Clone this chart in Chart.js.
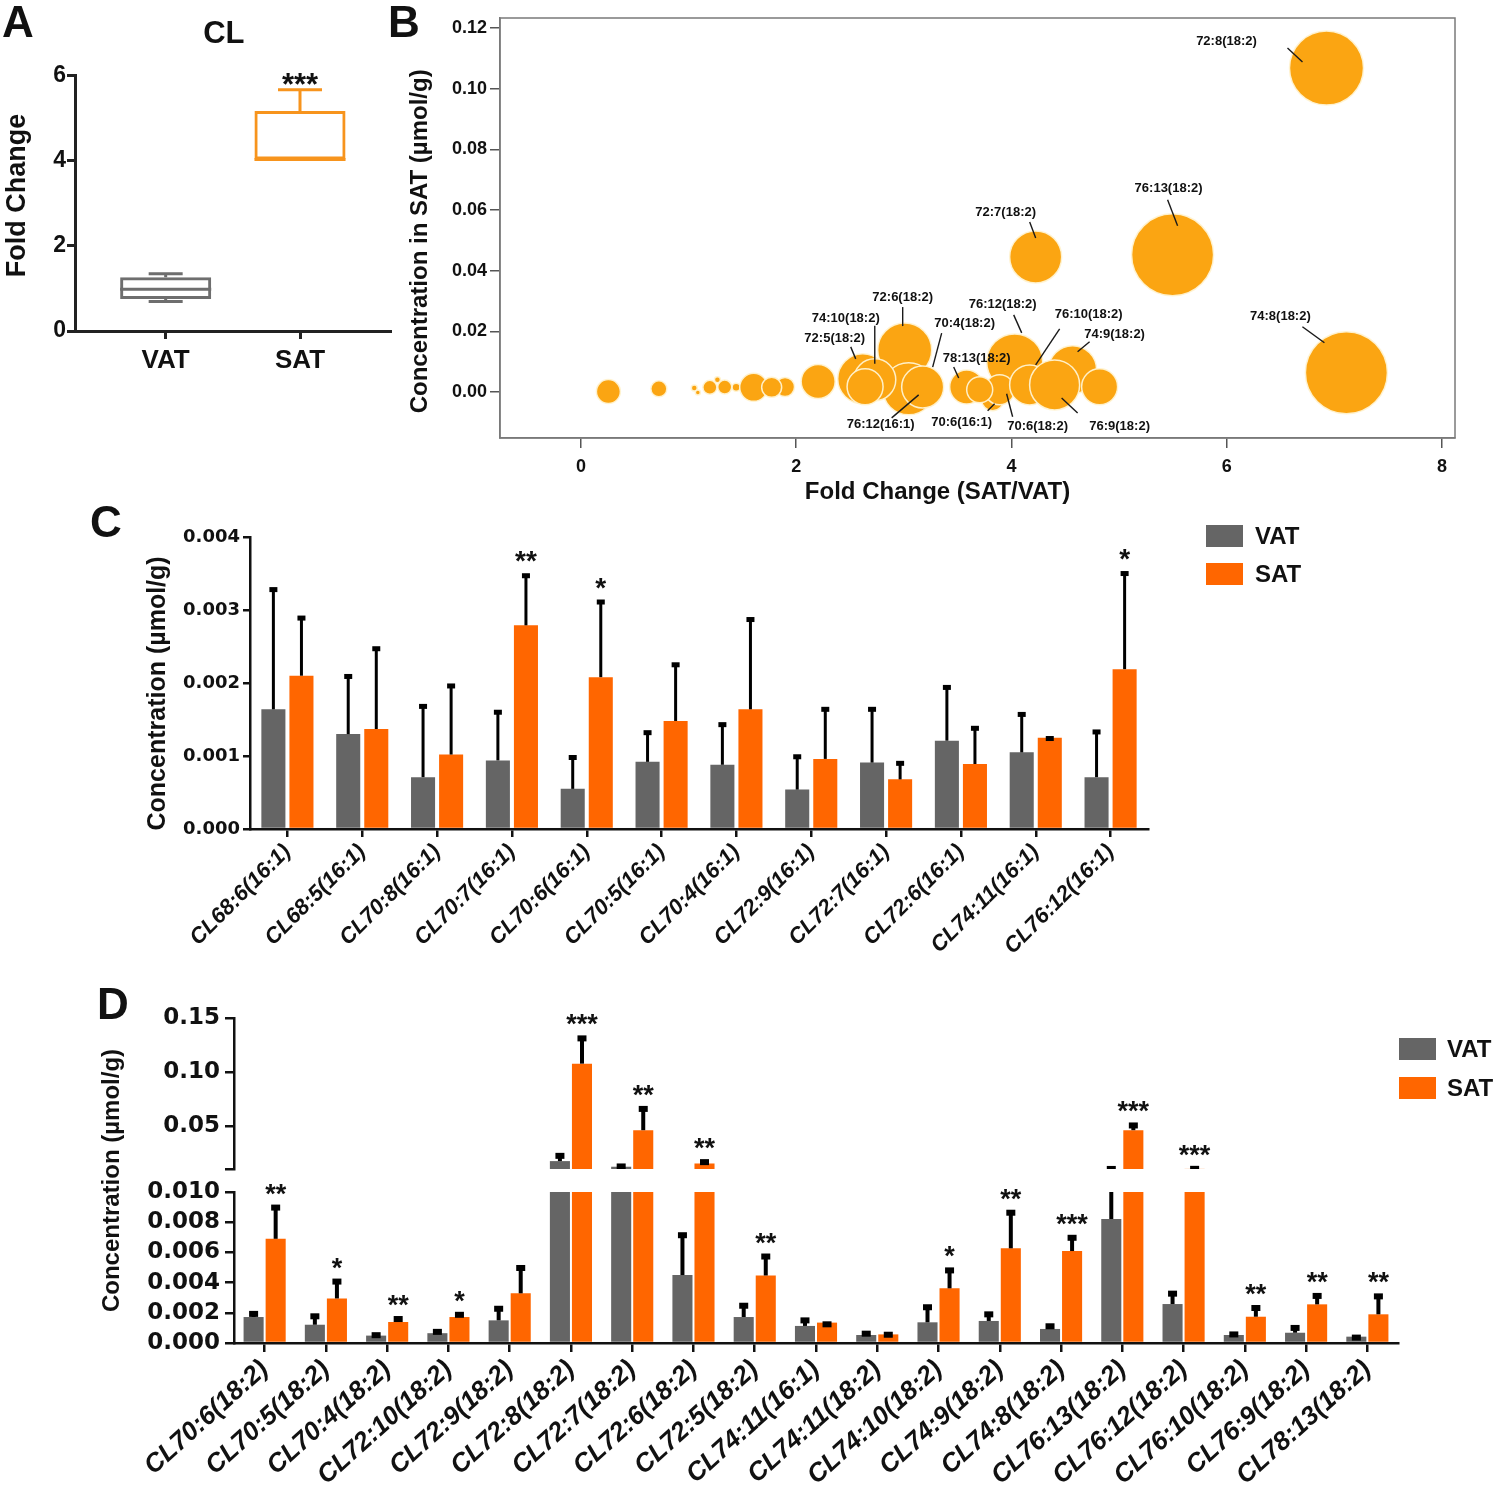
<!DOCTYPE html>
<html lang="en">
<head>
<meta charset="UTF-8">
<title>CL</title>
<script src="https://cdn.jsdelivr.net/npm/chart.js@4.4.0/dist/chart.umd.min.js"></script>
<style>
  body { margin: 0; background: #fff; }
  #wrap { position: relative; width: 1500px; height: 1490px; overflow: hidden; }
  canvas { position: absolute; }
  .tag { position: absolute; font: bold 44px Arial, "Liberation Sans", sans-serif; line-height: 1; color: #111; }
</style>
</head>
<body>
<div id="wrap">
  <canvas id="chartA" width="400" height="400" style="left:0;top:0"></canvas>
  <canvas id="chartB" width="1100" height="510" style="left:400px;top:0"></canvas>
  <canvas id="chartC" width="1250" height="475" style="left:100px;top:515px"></canvas>
  <canvas id="chartD" width="1410" height="500" style="left:90px;top:990px"></canvas>
  <div class="tag" style="left:2px;top:0">A</div>
  <div class="tag" style="left:388px;top:0">B</div>
  <div class="tag" style="left:90px;top:500px">C</div>
  <div class="tag" style="left:97px;top:982px">D</div>
</div>
<script>
// ---- panel A: fold change box plot
var boxGroups = ['VAT', 'SAT'];
var boxMin = [0.69, 4.02];
var boxQ1 = [0.75, 4.02];
var boxMedian = [0.98, 4.02];
var boxQ3 = [1.26, 5.16];
var boxMax = [1.34, 5.66];
var boxStars = ['', '***'];
var foldTicksA = [0, 2, 4, 6];

// ---- panel B: bubbles (fold change vs SAT concentration)
var bubbleNames = ['', '', '', '', '', '', '', '', '', '', '', '',
  '72:5(18:2)', '72:6(18:2)', '76:12(16:1)', '76:12(18:2)', '74:9(18:2)', '70:6(16:1)',
  '70:6(18:2)', '78:13(18:2)', '', '74:10(18:2)', '', '70:4(18:2)', '76:10(18:2)',
  '76:9(18:2)', '', '72:7(18:2)', '76:13(18:2)', '72:8(18:2)', '74:8(18:2)'];
var bubbleFold = [0.255, 0.724, 1.053, 1.086, 1.198, 1.268, 1.336, 1.442, 1.605, 1.896, 1.772, 2.204,
  2.618, 3.008, 3.045, 4.030, 4.568, 3.825,
  3.890, 3.584, 3.705, 2.730, 2.640, 3.175, 4.169,
  4.401, 4.819, 4.225, 5.497, 6.927, 7.112];
var bubbleConc = [0.0001, 0.0010, 0.0013, -0.0002, 0.0015, 0.0040, 0.0016, 0.0015, 0.0015, 0.0016, 0.0015, 0.0034,
  0.0043, 0.0138, 0.0010, 0.0099, 0.0073, -0.0026,
  0.0007, 0.0016, 0.0007, 0.0040, 0.0017, 0.0016, 0.0023,
  0.0023, 0.0017, 0.0445, 0.0452, 0.1068, 0.0063];
var bubbleSize = [12, 8, 3, 2.5, 7, 3, 7, 4, 14, 9.5, 10, 17,
  25, 27, 26, 28, 24, 11,
  15, 17, 13, 21, 18, 21, 20,
  25, 18, 26, 41, 37, 41];
var foldTicksB = [0, 2, 4, 6, 8];
var concTicksB = [0, 0.02, 0.04, 0.06, 0.08, 0.10, 0.12];

// ---- panel C: 16:1 species
var lipids16 = ['CL68:6(16:1)', 'CL68:5(16:1)', 'CL70:8(16:1)', 'CL70:7(16:1)', 'CL70:6(16:1)', 'CL70:5(16:1)',
  'CL70:4(16:1)', 'CL72:9(16:1)', 'CL72:7(16:1)', 'CL72:6(16:1)', 'CL74:11(16:1)', 'CL76:12(16:1)'];
var vat16 = [0.00164, 0.00130, 0.00071, 0.00094, 0.00055, 0.00092, 0.00088, 0.00054, 0.00091, 0.00121, 0.00105, 0.00071];
var vat16Err = [0.00330, 0.00211, 0.00170, 0.00162, 0.00100, 0.00134, 0.00145, 0.00101, 0.00166, 0.00196, 0.00159, 0.00135];
var sat16 = [0.00210, 0.00137, 0.00102, 0.00279, 0.00208, 0.00148, 0.00164, 0.00096, 0.00068, 0.00089, 0.00125, 0.00219];
var sat16Err = [0.00291, 0.00249, 0.00198, 0.00349, 0.00313, 0.00227, 0.00289, 0.00166, 0.00092, 0.00140, 0.00126, 0.00352];
var stars16 = ['', '', '', '**', '*', '', '', '', '', '', '', '*'];
var concTicksC = [0, 0.001, 0.002, 0.003, 0.004];

// ---- panel D: 18:2 species, broken axis
var lipids18 = ['CL70:6(18:2)', 'CL70:5(18:2)', 'CL70:4(18:2)', 'CL72:10(18:2)', 'CL72:9(18:2)', 'CL72:8(18:2)',
  'CL72:7(18:2)', 'CL72:6(18:2)', 'CL72:5(18:2)', 'CL74:11(16:1)', 'CL74:11(18:2)', 'CL74:10(18:2)',
  'CL74:9(18:2)', 'CL74:8(18:2)', 'CL76:13(18:2)', 'CL76:12(18:2)', 'CL76:10(18:2)', 'CL76:9(18:2)', 'CL78:13(18:2)'];
var vat18 = [0.00172, 0.00121, 0.00049, 0.00065, 0.00150, 0.0177, 0.0125, 0.00450, 0.00172, 0.00113,
  0.00053, 0.00137, 0.00146, 0.00093, 0.00821, 0.00258, 0.00053, 0.00068, 0.00042];
var vat18Err = [0.00206, 0.00190, 0.00065, 0.00087, 0.00240, 0.0244, 0.0146, 0.00727, 0.00260, 0.00163,
  0.00075, 0.00250, 0.00203, 0.00124, 0.0123, 0.00340, 0.00070, 0.00113, 0.00049];
var sat18 = [0.00690, 0.00295, 0.00139, 0.00172, 0.00329, 0.1078, 0.0463, 0.0155, 0.00447, 0.00135,
  0.00057, 0.00362, 0.00627, 0.00609, 0.0463, 0.0105, 0.00174, 0.00256, 0.00190];
var sat18Err = [0.00910, 0.00420, 0.00172, 0.00200, 0.00510, 0.1330, 0.0678, 0.0186, 0.00586, 0.00137,
  0.00068, 0.00494, 0.00876, 0.00710, 0.0525, 0.0124, 0.00245, 0.00325, 0.00322];
var stars18 = ['**', '*', '**', '*', '', '***', '**', '**', '**', '', '', '*', '**', '***', '***', '***', '**', '**', '**'];
var lowTicksD = [0, 0.002, 0.004, 0.006, 0.008, 0.010];
var highTicksD = [0.05, 0.10, 0.15];
var breakLow = 0.010, breakHigh = 0.0104;

// ---- look
var ARIAL = 'Arial, "Liberation Sans", sans-serif';
var DEJAVU = '"DejaVu Sans", Verdana, sans-serif';
var GREY = '#656565';
var ORANGE = '#ff6600';
var INK = '#111';
Chart.defaults.font.family = ARIAL;
Chart.defaults.color = INK;

// label offsets from bubble centre: text dx,dy, leader from (ax,ay) to (bx,by)
var bubbleTagAt = {
  '72:5(18:2)': [-28, -40, -12, -32, -7, -20],
  '72:6(18:2)': [-2, -53, -2, -43, -2, -24],
  '76:12(16:1)': [-28, 36, -17, 29, 10, 6],
  '76:12(18:2)': [-12, -57, -1, -47, 7, -29],
  '74:9(18:2)': [42, -35, 17, -28, 5, -18],
  '70:6(16:1)': [-31, 23, -5, 11, 2, 4],
  '70:6(18:2)': [38, 37, 13, 27, 7, 4],
  '78:13(18:2)': [10, -29, -13, -20, -8, -9],
  '74:10(18:2)': [-29, -61, 0, -54, 0, -16],
  '70:4(18:2)': [42, -64, 19, -54, 10, -20],
  '76:10(18:2)': [59, -71, 30, -56, 6, -20],
  '76:9(18:2)': [65, 41, 23, 28, 7, 13],
  '72:7(18:2)': [-30, -45, -6, -35, 0, -19],
  '76:13(18:2)': [-4, -66, -5, -55, 5, -29],
  '72:8(18:2)': [-100, -27, -39, -20, -24, -6],
  '74:8(18:2)': [-66, -56, -44, -46, -22, -30]
};

function fixedTicks(list) {
  return function (s) { s.ticks = list.map(function (v) { return { value: v }; }); };
}

function tickGrid(len, w, col) {
  return { drawOnChartArea: false, drawTicks: true, tickLength: len, lineWidth: w, color: col, offset: false };
}

// ================= A =================
var boxColors = ['#6e6e6e', '#f7941d'];
var boxCaps = [34, 44];
var boxPlot = {
  id: 'boxPlot',
  afterDatasetsDraw: function (chart) {
    var ctx = chart.ctx, y = chart.scales.y;
    var meta = chart.getDatasetMeta(0);
    meta.data.forEach(function (bar, i) {
      var cx = bar.x, half = bar.width / 2;
      ctx.save();
      ctx.strokeStyle = boxColors[i];
      ctx.lineWidth = 3;
      ctx.beginPath();
      var ym = y.getPixelForValue(boxMedian[i]);
      ctx.moveTo(cx - half, ym); ctx.lineTo(cx + half, ym);
      var yq3 = y.getPixelForValue(boxQ3[i]), yMax = y.getPixelForValue(boxMax[i]);
      var yq1 = y.getPixelForValue(boxQ1[i]), yMin = y.getPixelForValue(boxMin[i]);
      ctx.moveTo(cx, yq3); ctx.lineTo(cx, yMax);
      ctx.moveTo(cx - boxCaps[i] / 2, yMax); ctx.lineTo(cx + boxCaps[i] / 2, yMax);
      if (yMin - yq1 > 0.5) {
        ctx.moveTo(cx, yq1); ctx.lineTo(cx, yMin);
        ctx.moveTo(cx - boxCaps[i] / 2, yMin); ctx.lineTo(cx + boxCaps[i] / 2, yMin);
      }
      ctx.stroke();
      if (boxStars[i]) {
        ctx.fillStyle = INK;
        ctx.font = 'bold 31px ' + ARIAL;
        ctx.textAlign = 'center';
        ctx.fillText(boxStars[i], cx, yMax + 5);
      }
      ctx.restore();
    });
  }
};

new Chart(document.getElementById('chartA'), {
  type: 'bar',
  data: {
    datasets: [{
      data: boxGroups.map(function (g, i) { return { x: i + 1, y: [boxQ1[i], boxQ3[i]] }; }),
      backgroundColor: 'rgba(255,255,255,0)',
      borderColor: boxColors,
      borderWidth: 3,
      borderSkipped: false,
      categoryPercentage: 1,
      barPercentage: 0.678
    }]
  },
  options: {
    responsive: false,
    animation: false,
    layout: { padding: { right: 10 } },
    plugins: {
      legend: { display: false },
      tooltip: { enabled: false },
      title: { display: true, text: 'CL  ', fullSize: false, color: INK,
        font: { size: 31, weight: 'bold' }, padding: { top: 16, bottom: 22 } }
    },
    scales: {
      x: {
        type: 'linear', min: 0.325, max: 2.67, offset: false,
        afterBuildTicks: fixedTicks([1, 2]),
        ticks: { callback: function (v) { return boxGroups[v - 1]; }, padding: 6, color: INK,
          font: { size: 26, weight: 'bold' } },
        grid: tickGrid(8, 3, '#222'),
        border: { color: '#222', width: 3 },
        afterFit: function (s) { s.height = 69; }
      },
      y: {
        min: 0, max: 6,
        afterBuildTicks: fixedTicks(foldTicksA),
        ticks: { padding: 1, color: INK, font: { size: 23, weight: 'bold' } },
        grid: tickGrid(8, 3, '#222'),
        border: { color: '#222', width: 3 },
        title: { display: true, text: '  Fold Change', color: INK, font: { size: 27, weight: 'bold' },
          padding: { top: 1, bottom: 0 } },
        afterFit: function (s) { s.width = 75; }
      }
    }
  },
  plugins: [boxPlot]
});

// ================= B =================
var bubbleNotes = {
  id: 'bubbleNotes',
  afterDatasetsDraw: function (chart) {
    var ctx = chart.ctx, a = chart.chartArea;
    var meta = chart.getDatasetMeta(0);
    ctx.save();
    ctx.strokeStyle = '#7a7a7a';
    ctx.lineWidth = 1.5;
    ctx.strokeRect(a.left, a.top, a.right - a.left, a.bottom - a.top);
    ctx.font = 'bold 13px ' + ARIAL;
    ctx.textAlign = 'center';
    ctx.textBaseline = 'middle';
    ctx.fillStyle = INK;
    ctx.strokeStyle = '#1a1a1a';
    ctx.lineWidth = 1.4;
    bubbleNames.forEach(function (name, i) {
      var t = bubbleTagAt[name];
      if (!t) return;
      var p = meta.data[i];
      ctx.fillText(name, p.x + t[0], p.y + t[1]);
      ctx.beginPath();
      ctx.moveTo(p.x + t[2], p.y + t[3]);
      ctx.lineTo(p.x + t[4], p.y + t[5]);
      ctx.stroke();
    });
    ctx.restore();
  }
};

new Chart(document.getElementById('chartB'), {
  type: 'bubble',
  data: {
    datasets: [{
      data: bubbleNames.map(function (n, i) { return { x: bubbleFold[i], y: bubbleConc[i], r: bubbleSize[i] }; }),
      backgroundColor: '#fba512',
      borderColor: 'rgba(255,243,210,0.95)',
      borderWidth: 1.5,
      clip: false
    }]
  },
  options: {
    responsive: false,
    animation: false,
    layout: { autoPadding: false, padding: { top: 18, right: 45 } },
    plugins: { legend: { display: false }, tooltip: { enabled: false } },
    scales: {
      x: {
        type: 'linear', min: -0.752, max: 8.121,
        afterBuildTicks: fixedTicks(foldTicksB),
        ticks: { padding: 8, color: INK, font: { size: 18, weight: 'bold' } },
        grid: tickGrid(10, 1.5, '#555'),
        border: { color: '#7a7a7a', width: 1.5 },
        title: { display: true, text: 'Fold Change (SAT/VAT)            ', color: INK,
          font: { size: 24, weight: 'bold' }, padding: { top: 0, bottom: 3 } },
        afterFit: function (s) { s.height = 72; }
      },
      y: {
        type: 'linear', min: -0.0152, max: 0.1233,
        afterBuildTicks: fixedTicks(concTicksB),
        ticks: { callback: function (v) { return v.toFixed(2); }, padding: 3, color: INK,
          font: { size: 18, weight: 'bold' } },
        grid: tickGrid(10, 1.5, '#555'),
        border: { color: '#7a7a7a', width: 1.5 },
        title: { display: true, text: 'Concentration in SAT (\u00b5mol/g)    ', color: INK,
          font: { size: 24, weight: 'bold' }, padding: { top: 6, bottom: 0 } },
        afterFit: function (s) { s.width = 100; }
      }
    }
  },
  plugins: [bubbleNotes]
});

// ================= shared for C and D =================
function errorBars(errs, stars, look) {
  return {
    id: 'errorBars',
    beforeDatasetDraw: function (chart, args) {
      var s = chart.getDatasetMeta(args.index).yScale, a = chart.chartArea, ctx = chart.ctx;
      var top = s.top > a.top + 1 ? s.top : 0;
      var bottom = s.bottom < a.bottom - 1 ? s.bottom : chart.height;
      ctx.save();
      ctx.beginPath();
      ctx.rect(0, top, chart.width, bottom - top);
      ctx.clip();
    },
    afterDatasetDraw: function (chart, args) {
      var meta = chart.getDatasetMeta(args.index), s = meta.yScale, ctx = chart.ctx;
      var vals = chart.data.datasets[args.index].data, err = errs[args.index];
      ctx.fillStyle = '#000';
      ctx.strokeStyle = '#000';
      ctx.lineWidth = look.line;
      meta.data.forEach(function (bar, i) {
        var y0 = s.getPixelForValue(vals[i]), y1 = s.getPixelForValue(err[i]);
        ctx.beginPath();
        ctx.moveTo(bar.x, y0);
        ctx.lineTo(bar.x, y1);
        ctx.stroke();
        ctx.fillRect(bar.x - look.cap / 2, y1 - 1, look.cap, look.capH);
      });
      ctx.restore();
    },
    afterDatasetsDraw: function (chart) {
      var ctx = chart.ctx;
      ctx.save();
      ctx.font = look.starFont;
      ctx.fillStyle = INK;
      ctx.textAlign = 'center';
      ctx.textBaseline = 'alphabetic';
      chart.data.datasets.forEach(function (ds, d) {
        if (!stars[d]) return;
        var meta = chart.getDatasetMeta(d), s = meta.yScale;
        meta.data.forEach(function (bar, i) {
          var e = errs[d][i];
          if (!stars[d][i] || e < s.min || e > s.max) return;
          ctx.fillText(stars[d][i], bar.x, s.getPixelForValue(e) - look.starGap);
        });
      });
      ctx.restore();
    }
  };
}

function sideLegend(cfg) {
  return {
    id: 'sideLegend',
    afterDraw: function (chart) {
      var ctx = chart.ctx, a = chart.chartArea;
      ctx.save();
      ctx.font = 'bold 24px ' + ARIAL;
      ctx.textAlign = 'left';
      ctx.textBaseline = 'middle';
      [0, 1].forEach(function (i) {
        var ds = chart.data.datasets[i];
        var x = a.right + cfg.dx, y = a.top + cfg.dy + i * cfg.step;
        ctx.fillStyle = ds.backgroundColor;
        ctx.fillRect(x, y, cfg.w, cfg.h);
        ctx.fillStyle = INK;
        ctx.fillText(ds.label, x + cfg.textDx, y + cfg.h / 2 + 1);
      });
      ctx.restore();
    }
  };
}

// ================= C =================
new Chart(document.getElementById('chartC'), {
  type: 'bar',
  data: {
    labels: lipids16,
    datasets: [
      { label: 'VAT', data: vat16, backgroundColor: GREY, categoryPercentage: 0.75, barPercentage: 0.857 },
      { label: 'SAT', data: sat16, backgroundColor: ORANGE, categoryPercentage: 0.75, barPercentage: 0.857 }
    ]
  },
  options: {
    responsive: false,
    animation: false,
    layout: { padding: { top: 22, right: 202 } },
    plugins: { legend: { display: false }, tooltip: { enabled: false } },
    scales: {
      x: {
        offset: true,
        grid: tickGrid(8, 2.5, INK),
        border: { color: INK, width: 2.5 },
        ticks: { autoSkip: false, minRotation: 45, maxRotation: 45, padding: 2, color: INK,
          font: { size: 22, weight: 'bold', style: 'italic' } },
        afterFit: function (s) { s.height = 161; }
      },
      y: {
        min: 0, max: 0.004,
        afterBuildTicks: fixedTicks(concTicksC),
        ticks: { autoSkip: false, callback: function (v) { return v.toFixed(3); }, padding: 3, color: INK,
          font: { family: DEJAVU, size: 18, weight: 'bold' } },
        grid: tickGrid(7, 2.5, INK),
        border: { color: INK, width: 2.5 },
        title: { display: true, text: 'Concentration (\u00b5mol/g)   ', color: INK,
          font: { size: 25, weight: 'bold' }, padding: { top: 43, bottom: 0 } },
        afterFit: function (s) { s.width = 150; }
      }
    }
  },
  plugins: [
    errorBars([vat16Err, sat16Err], [null, stars16],
      { line: 3, cap: 8, capH: 5, starFont: 'bold 28px ' + ARIAL, starGap: 4 }),
    sideLegend({ dx: 58, dy: -12, w: 37, h: 22, step: 38, textDx: 49 })
  ]
});

// ================= D =================
var yTickD = { autoSkip: false, padding: 5, color: INK, font: { family: DEJAVU, size: 23, weight: 'bold' } };
function barSet(label, data, color, axis, stack) {
  return { label: label, data: data, backgroundColor: color, yAxisID: axis, stack: stack,
    categoryPercentage: 0.72, barPercentage: 0.91 };
}

new Chart(document.getElementById('chartD'), {
  type: 'bar',
  data: {
    labels: lipids18,
    datasets: [
      barSet('VAT', vat18, GREY, 'yLow', 'vat'),
      barSet('SAT', sat18, ORANGE, 'yLow', 'sat'),
      barSet('VAT', vat18, GREY, 'yHigh', 'vat'),
      barSet('SAT', sat18, ORANGE, 'yHigh', 'sat')
    ]
  },
  options: {
    responsive: false,
    animation: false,
    layout: { padding: { top: 28, right: 102 } },
    plugins: { legend: { display: false }, tooltip: { enabled: false } },
    scales: {
      x: {
        offset: true,
        grid: tickGrid(9, 2.5, INK),
        border: { color: INK, width: 2.5 },
        ticks: { autoSkip: false, minRotation: 42, maxRotation: 42, padding: 2, color: INK,
          font: { size: 26, weight: 'bold', style: 'italic' } },
        afterFit: function (s) { s.height = 147; }
      },
      yHigh: {
        type: 'linear', position: 'left', stack: 'd', stackWeight: 151, weight: 3, stacked: false,
        min: breakHigh, max: 0.15,
        afterBuildTicks: fixedTicks([breakHigh].concat(highTicksD)),
        ticks: Object.assign({ callback: function (v, i) { return i === 0 ? '' : v.toFixed(2); } }, yTickD),
        grid: tickGrid(9, 2.5, INK),
        border: { color: INK, width: 2.5 },
        afterFit: function (s) { s.width = 144; }
      },
      yGap: {
        type: 'linear', position: 'left', stack: 'd', stackWeight: 23, weight: 2,
        min: 0, max: 1,
        ticks: { display: false },
        grid: { display: false },
        border: { display: false },
        title: { display: true, text: 'Concentration (\u00b5mol/g)', color: INK,
          font: { size: 24, weight: 'bold' }, padding: { top: 8, bottom: 0 } },
        afterFit: function (s) { s.width = 144; }
      },
      yLow: {
        type: 'linear', position: 'left', stack: 'd', stackWeight: 151, weight: 1, stacked: false,
        min: 0, max: breakLow,
        afterBuildTicks: fixedTicks(lowTicksD),
        ticks: Object.assign({ callback: function (v) { return v.toFixed(3); } }, yTickD),
        grid: tickGrid(9, 2.5, INK),
        border: { color: INK, width: 2.5 },
        afterFit: function (s) { s.width = 144; }
      }
    }
  },
  plugins: [
    errorBars([vat18Err, sat18Err, vat18Err, sat18Err], [null, stars18, null, stars18],
      { line: 4, cap: 9, capH: 6, starFont: 'bold 27px ' + ARIAL, starGap: 3 }),
    sideLegend({ dx: 1, dy: 20, w: 37, h: 22, step: 39, textDx: 48 })
  ]
});
</script>
</body>
</html>
